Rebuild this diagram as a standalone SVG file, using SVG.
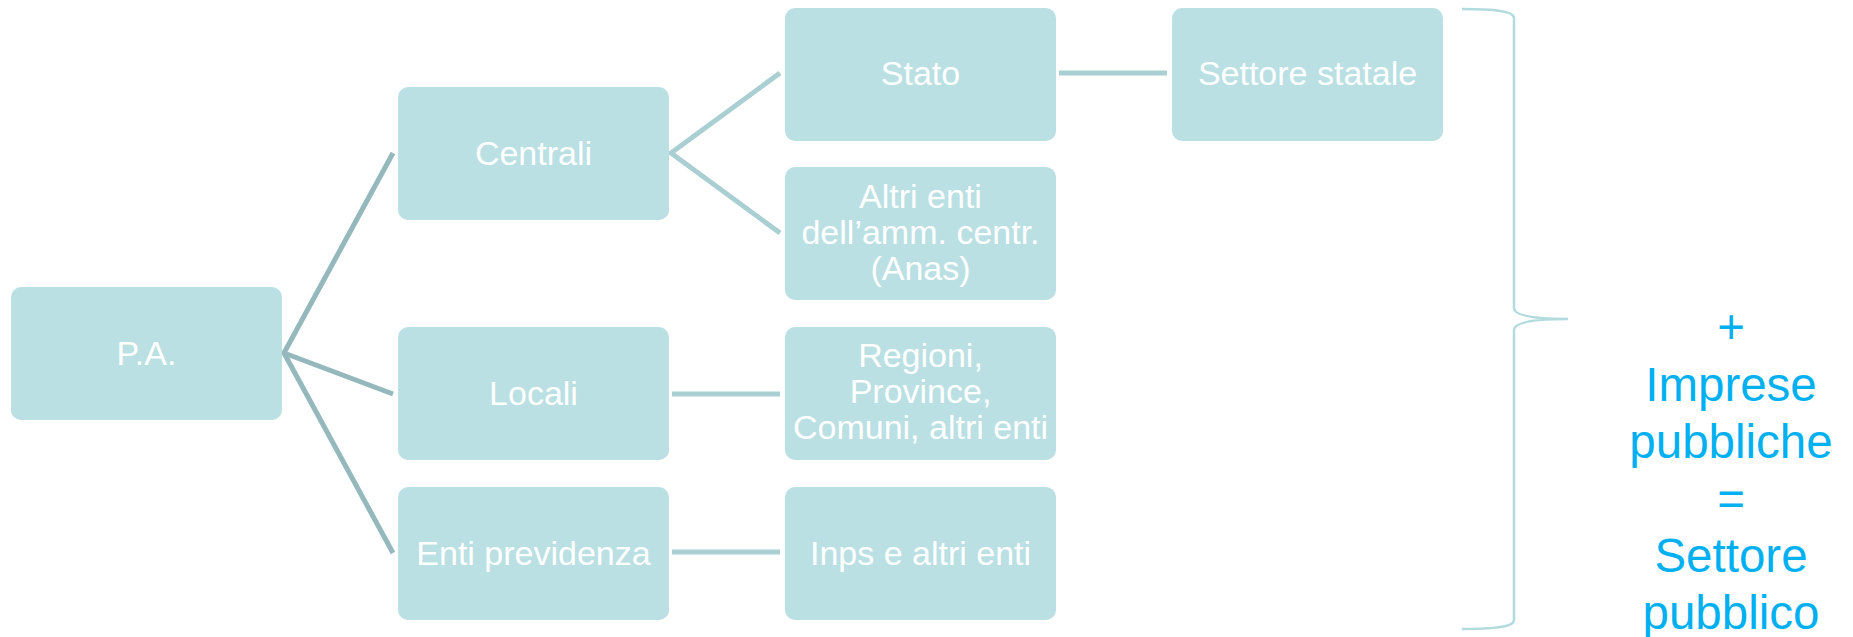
<svg xmlns="http://www.w3.org/2000/svg" width="1853" height="637" viewBox="0 0 1853 637">
  <style>
    .box { fill: #bae0e3; }
    .lbl { font-family: "Liberation Sans", Arial, sans-serif; font-size: 34px; fill: #ffffff; text-anchor: middle; }
    .lnk-a { stroke: #94b8bc; stroke-width: 5; fill: none; }
    .lnk-b { stroke: #a9cfd2; stroke-width: 5; fill: none; }
    .brace { stroke: #b2dbde; stroke-width: 2.5; fill: none; }
    .note { font-family: "Liberation Sans", Arial, sans-serif; font-size: 47.5px; fill: #00b0f0; text-anchor: middle; }
  </style>
  <rect width="1853" height="637" fill="#ffffff"/>

  <g id="connectors">
    <polyline class="lnk-a" points="393,153 284,353 393,394"/>
    <line class="lnk-a" x1="284" y1="353" x2="393" y2="553"/>
    <polyline class="lnk-b" points="780,73 671,153 780,233"/>
    <line class="lnk-b" x1="672" y1="394" x2="780" y2="394"/>
    <line class="lnk-b" x1="672" y1="552" x2="780" y2="552"/>
    <line class="lnk-b" x1="1059" y1="73" x2="1167" y2="73"/>
  </g>

  <g id="node-pa">
    <rect class="box" x="11" y="287" width="271" height="133" rx="10"/>
    <text class="lbl" x="146.5" y="365">P.A.</text>
  </g>
  <g id="node-centrali">
    <rect class="box" x="398" y="87" width="271" height="133" rx="10"/>
    <text class="lbl" x="533.5" y="165">Centrali</text>
  </g>
  <g id="node-locali">
    <rect class="box" x="398" y="327" width="271" height="133" rx="10"/>
    <text class="lbl" x="533.5" y="405">Locali</text>
  </g>
  <g id="node-enti-previdenza">
    <rect class="box" x="398" y="487" width="271" height="133" rx="10"/>
    <text class="lbl" x="533.5" y="565">Enti previdenza</text>
  </g>
  <g id="node-stato">
    <rect class="box" x="785" y="8" width="271" height="133" rx="10"/>
    <text class="lbl" x="920.5" y="85">Stato</text>
  </g>
  <g id="node-altri-enti">
    <rect class="box" x="785" y="167" width="271" height="133" rx="10"/>
    <text class="lbl" x="920.5" y="208">Altri enti</text>
    <text class="lbl" x="920.5" y="244">dell’amm. centr.</text>
    <text class="lbl" x="920.5" y="280">(Anas)</text>
  </g>
  <g id="node-regioni">
    <rect class="box" x="785" y="327" width="271" height="133" rx="10"/>
    <text class="lbl" x="920.5" y="367">Regioni,</text>
    <text class="lbl" x="920.5" y="403">Province,</text>
    <text class="lbl" x="920.5" y="439">Comuni, altri enti</text>
  </g>
  <g id="node-inps">
    <rect class="box" x="785" y="487" width="271" height="133" rx="10"/>
    <text class="lbl" x="920.5" y="565">Inps e altri enti</text>
  </g>
  <g id="node-settore-statale">
    <rect class="box" x="1172" y="8" width="271" height="133" rx="10"/>
    <text class="lbl" x="1307.5" y="85">Settore statale</text>
  </g>

  <g id="brace">
    <path class="brace" d="M1462,9 C1495,9 1514,11 1514,18 L1514,308 C1514,316 1535,319 1568,319 C1535,319 1514,322 1514,330 L1514,620 C1514,627 1495,629 1462,629"/>
  </g>

  <g id="summary">
    <text class="note" x="1731" y="343">+</text>
    <text class="note" x="1731" y="401">Imprese</text>
    <text class="note" x="1731" y="458">pubbliche</text>
    <text class="note" x="1731" y="515">=</text>
    <text class="note" x="1731" y="572">Settore</text>
    <text class="note" x="1731" y="629">pubblico</text>
  </g>
</svg>
